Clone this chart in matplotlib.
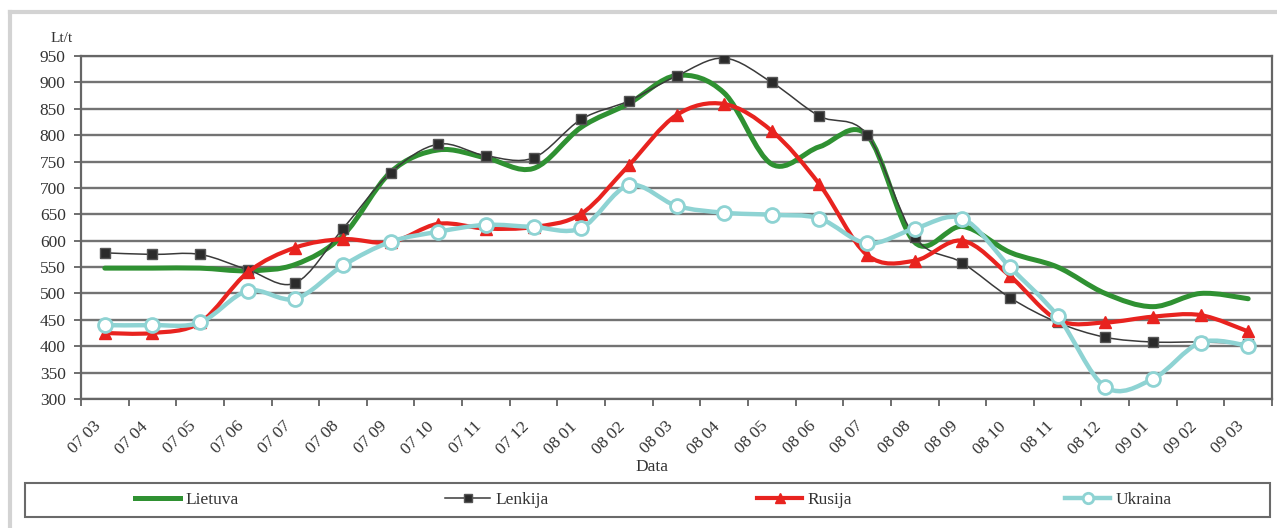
import numpy as np
import matplotlib
matplotlib.use('Agg')
import matplotlib.pyplot as plt
from matplotlib.path import Path
from matplotlib.patches import PathPatch, Rectangle
from matplotlib.lines import Line2D

# Monthly prices, Lt/t
months = ['07 03', '07 04', '07 05', '07 06', '07 07', '07 08', '07 09', '07 10',
          '07 11', '07 12', '08 01', '08 02', '08 03', '08 04', '08 05', '08 06',
          '08 07', '08 08', '08 09', '08 10', '08 11', '08 12', '09 01', '09 02',
          '09 03']
lietuva = [548, 548, 548, 543, 555, 610, 730, 772, 757, 737, 815, 860, 913, 880,
           745, 778, 800, 597, 627, 578, 550, 500, 475, 500, 490]
lenkija = [577, 574, 574, 545, 520, 623, 729, 783, 761, 757, 830, 865, 912, 946,
           900, 836, 801, 607, 558, 492, 445, 417, 408, 408, 405]
rusija = [425, 425, 445, 540, 587, 603, 597, 632, 623, 626, 651, 743, 838, 859,
          808, 707, 573, 562, 600, 533, 450, 445, 456, 459, 428]
ukraina = [440, 440, 445, 505, 490, 553, 598, 617, 630, 626, 624, 705, 666, 653,
           649, 642, 595, 623, 642, 550, 457, 323, 338, 407, 401]

yticks = list(range(300, 951, 50))

plt.rcParams['font.family'] = ['Liberation Serif', 'DejaVu Serif']
plt.rcParams['font.size'] = 12.5

c_lt = '#2f9132'
c_pl = '#3a3a3a'
c_ru = '#e8231f'
c_ua = '#8ed3d3'
c_grid = '#737373'


def smooth_path(xs, ys):
    # Excel-like smoothed line: cubic Bezier through each point
    pts = np.column_stack([xs, ys]).astype(float)
    n = len(pts)
    verts = [pts[0]]
    codes = [Path.MOVETO]
    for i in range(n - 1):
        p0 = pts[i - 1] if i > 0 else pts[i]
        p1 = pts[i]
        p2 = pts[i + 1]
        p3 = pts[i + 2] if i + 2 < n else pts[i + 1]
        verts += [p1 + (p2 - p0) / 6.0, p2 - (p3 - p1) / 6.0, p2]
        codes += [Path.CURVE4] * 3
    return Path(verts, codes)


fig = plt.figure(figsize=(12.77, 5.28), dpi=100)
ax = fig.add_axes([81 / 1277, 1 - 399 / 528, (1272 - 81) / 1277, (399 - 56) / 528])

xs = np.arange(len(months))

ax.set_xlim(-0.5, len(months) - 0.5)
ax.set_ylim(300, 950)
ax.set_yticks(yticks)
ax.yaxis.grid(True, color=c_grid, linewidth=1.7)
ax.set_axisbelow(True)

ax.set_xticks(np.arange(len(months) + 1) - 0.5)
ax.set_xticklabels([])
# labels sit slightly left of the category centre, as in the original
ax.set_xticks(xs - 0.25, minor=True)
ax.set_xticklabels(months, minor=True, rotation=45, ha='right', va='top',
                   rotation_mode='anchor')
ax.tick_params(axis='x', which='major', direction='out', length=5, width=1.2,
               color='#555555')
ax.tick_params(axis='x', which='minor', length=0, pad=14, colors='#333333')
ax.tick_params(axis='y', direction='out', length=5, width=1.2, color='#555555',
               labelcolor='#333333', pad=6)
for s in ax.spines.values():
    s.set_color('#666666')
    s.set_linewidth(1.6)

series = [
    ('Lietuva', lietuva, dict(color=c_lt, lw=3.6), None),
    ('Lenkija', lenkija, dict(color=c_pl, lw=1.1),
     dict(marker='s', ms=7.5, mfc='#2b2b2b', mec='#555555', mew=1)),
    ('Rusija', rusija, dict(color=c_ru, lw=3.0),
     dict(marker='^', ms=9, mfc=c_ru, mec=c_ru, mew=1)),
    ('Ukraina', ukraina, dict(color=c_ua, lw=3.2),
     dict(marker='o', ms=10, mfc='white', mec=c_ua, mew=2)),
]

handles = []
for z, (name, vals, lstyle, mstyle) in enumerate(series):
    ax.add_patch(PathPatch(smooth_path(xs, vals), fill=False, capstyle='round',
                           joinstyle='round', zorder=3 + 2 * z, **lstyle))
    if mstyle is not None:
        ax.plot(xs, vals, linestyle='none', zorder=4 + 2 * z, **mstyle)
        small = dict(mstyle, ms=mstyle['ms'] * 0.75)
        handles.append(Line2D([], [], color=lstyle['color'], lw=lstyle['lw'], **small))
    else:
        handles.append(Line2D([], [], color=lstyle['color'], lw=lstyle['lw']))

fig.text(62 / 1277, 1 - 38 / 528, 'Lt/t', ha='center', va='center', fontsize=11,
         color='#333333')
fig.text(652 / 1277, 1 - 467 / 528, 'Data', ha='center', va='center', color='#333333')

# legend box and entries
fig.patches.append(Rectangle((25 / 1277, 1 - 517 / 528), 1245 / 1277, 34 / 528,
                             transform=fig.transFigure, fill=False,
                             edgecolor='#6a6a6a', linewidth=1.5))
leg_x = [135, 445, 757, 1065]
for h, (name, *_), lx in zip(handles, series, leg_x):
    fig.legend(handles=[h], labels=[name], loc='center left',
               bbox_to_anchor=(lx / 1277, 1 - 500 / 528), frameon=False,
               borderaxespad=0, borderpad=0, handlelength=2.6,
               handletextpad=0.3, labelcolor='#333333')

# outer frame (left and top edges)
fig.add_artist(Line2D([10 / 1277, 10 / 1277], [0, 1 - 12 / 528],
                      transform=fig.transFigure, color='#d3d3d3', lw=3))
fig.add_artist(Line2D([10 / 1277, 1], [1 - 12 / 528, 1 - 12 / 528],
                      transform=fig.transFigure, color='#d3d3d3', lw=3))

fig.savefig('out.png', dpi=100)
